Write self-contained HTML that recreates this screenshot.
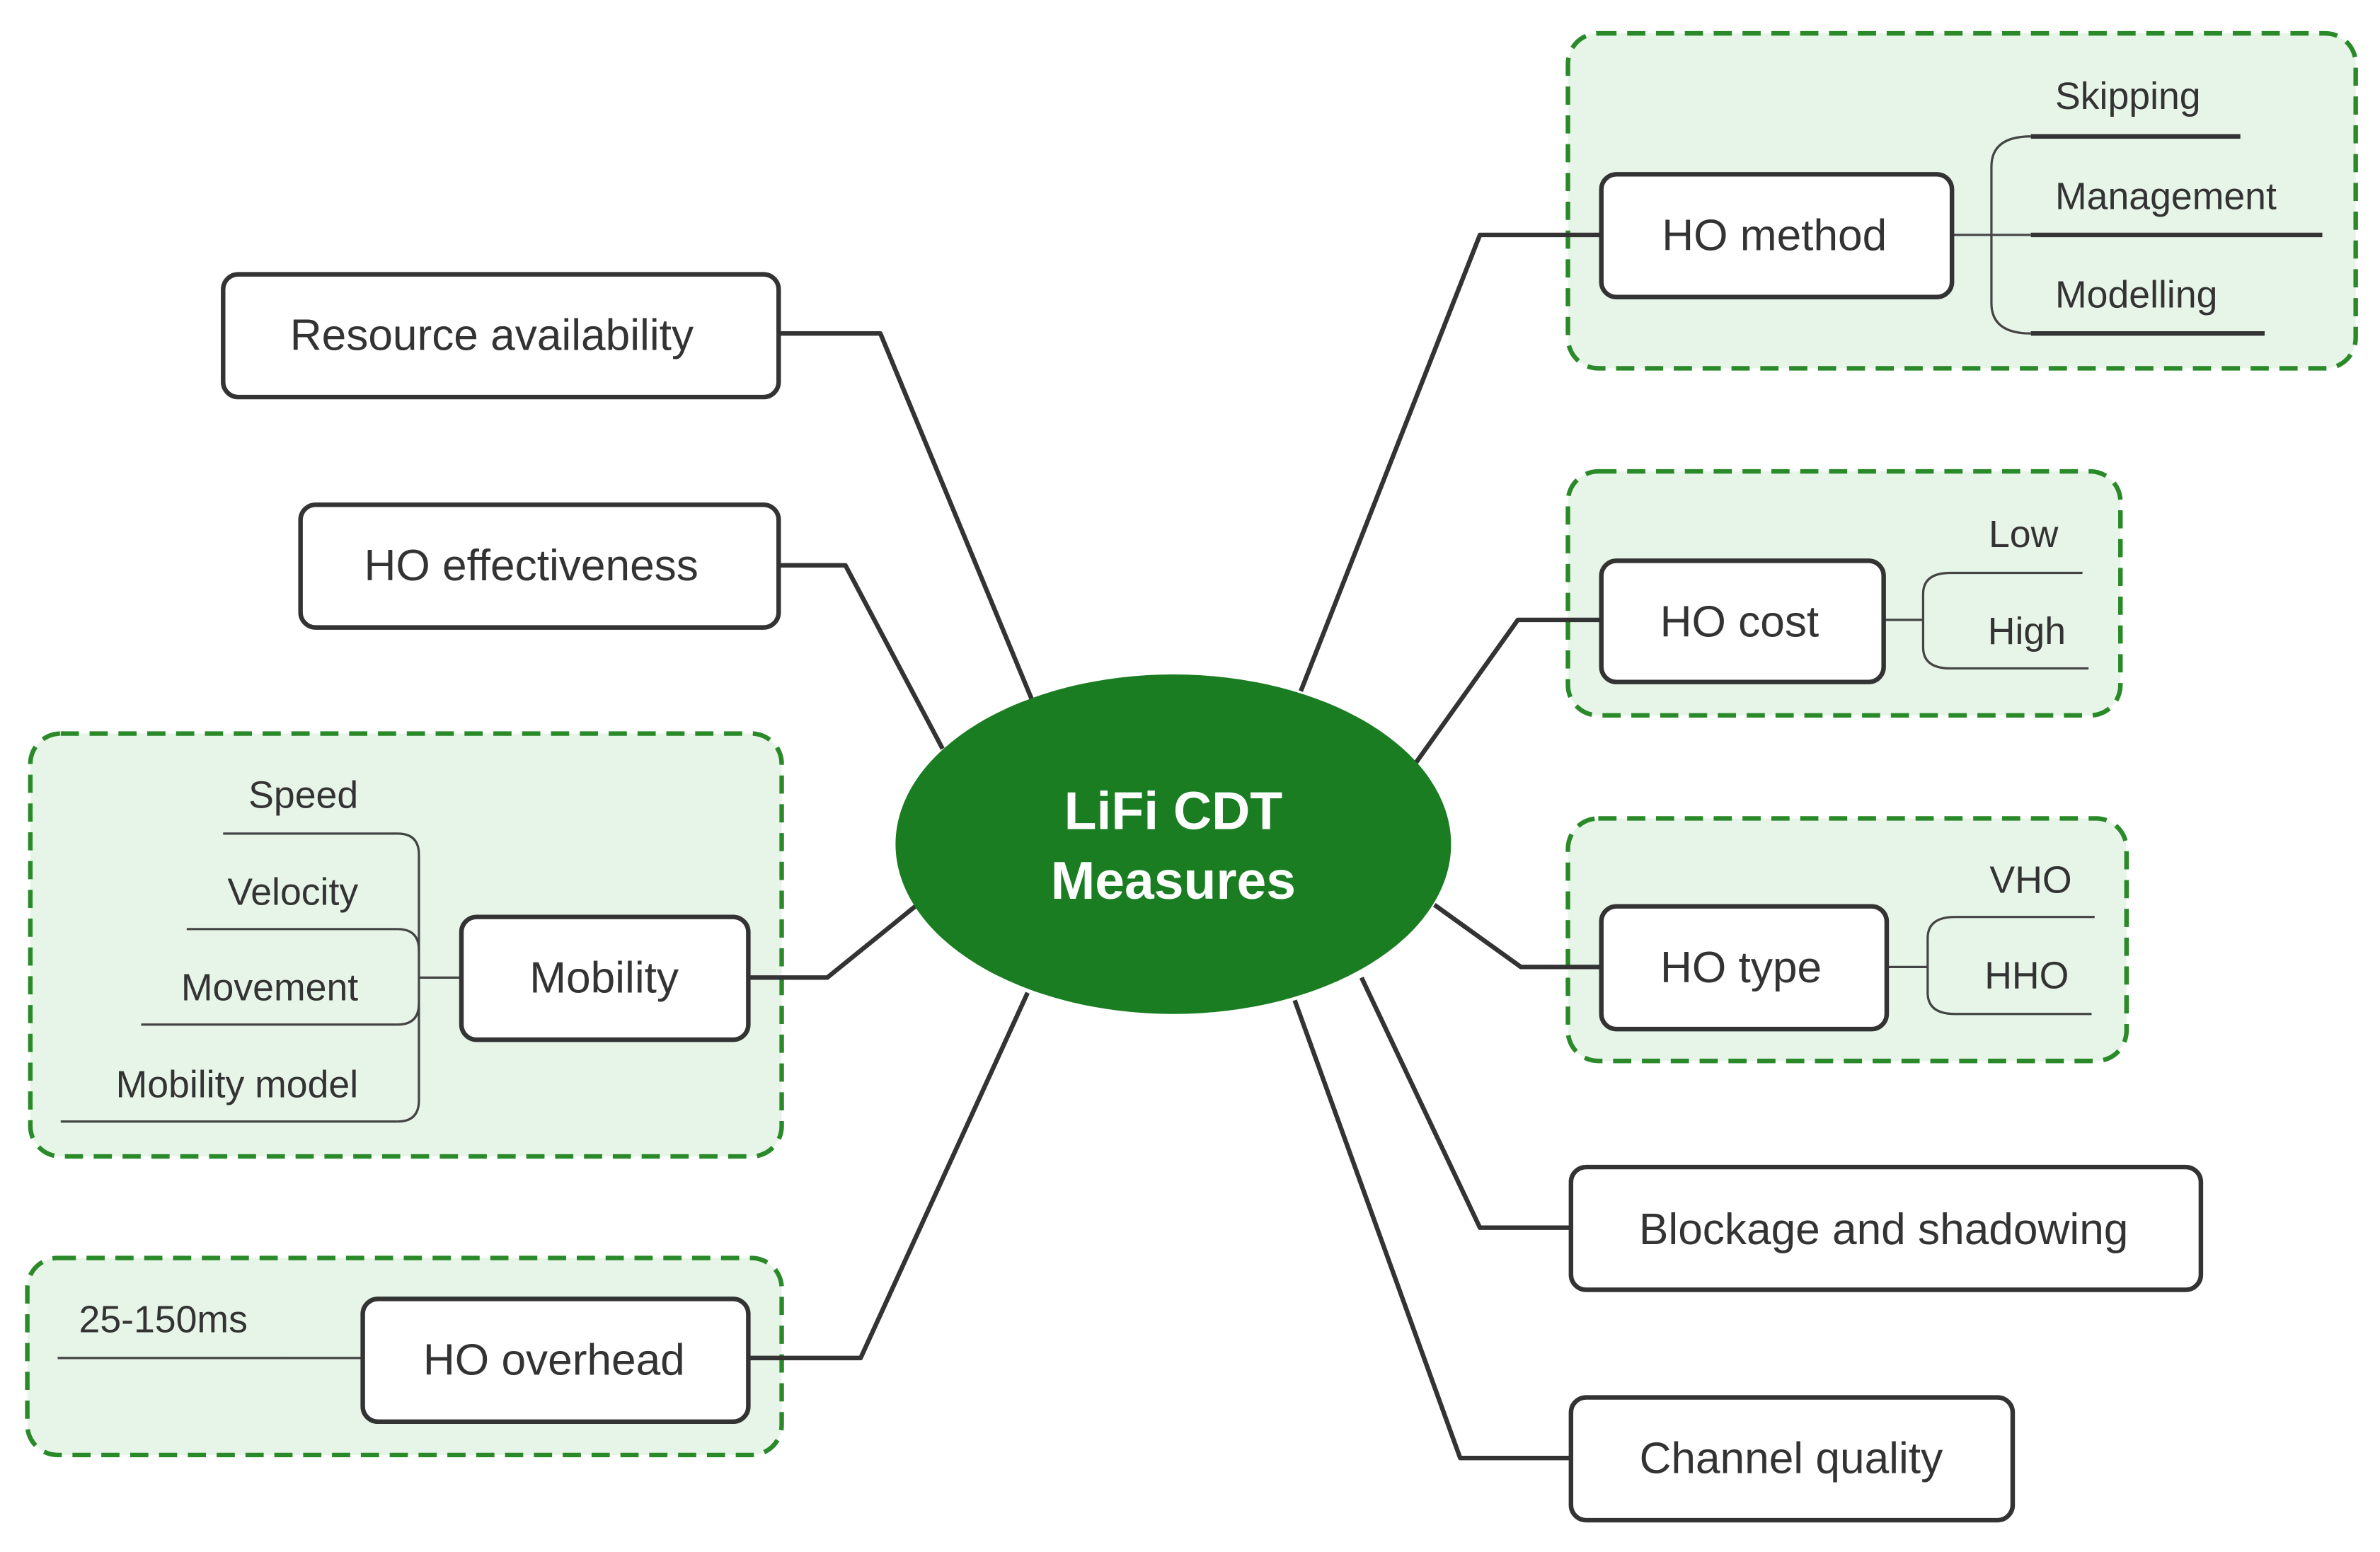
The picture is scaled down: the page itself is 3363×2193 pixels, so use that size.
<!DOCTYPE html>
<html><head><meta charset="utf-8"><style>
html,body{margin:0;padding:0;background:#fff;}
svg{display:block;}
text{font-family:"Liberation Sans",sans-serif;fill:#333;}
</style></head><body>
<svg width="3363" height="2193" viewBox="0 0 1568 1024" preserveAspectRatio="none" xmlns="http://www.w3.org/2000/svg">
<rect x="0" y="0" width="1568" height="1024" fill="#fff"/>
<g fill="#e7f5e8" stroke="#2a8a2a" stroke-width="3" stroke-dasharray="12,7">
<rect x="20" y="484" width="495" height="279" rx="20"/>
<rect x="18" y="830" width="497" height="130" rx="20"/>
<rect x="1033" y="22" width="519" height="221" rx="20"/>
<rect x="1033" y="311" width="364" height="161" rx="20"/>
<rect x="1033" y="540" width="368" height="160" rx="20"/>
</g>
<g fill="none" stroke="#333" stroke-width="3" stroke-linejoin="round">
<polyline points="513,220 580,220 680,462"/>
<polyline points="513,373 557,373 621,494"/>
<polyline points="493,645 545,645 603,598"/>
<polyline points="493,896 567,896 677,655"/>
<polyline points="857,456 975,155 1055,155"/>
<polyline points="933,503 1000,409 1055,409"/>
<polyline points="945,597 1002,638 1055,638"/>
<polyline points="897,645 975,810 1035,810"/>
<polyline points="853,660 962,962 1035,962"/>
</g>
<g fill="none" stroke="#444" stroke-width="1.5">
<path d="M262,550 Q276,550 276,564 L276,726 Q276,740 262,740"/>
<path d="M262,613 Q276,613 276,627 M262,676 Q276,676 276,662"/>
<line x1="276" y1="645" x2="304" y2="645"/>
<line x1="186" y1="896" x2="239" y2="896"/>
<path d="M1338,90 Q1312,90 1312,110 L1312,200 Q1312,220 1338,220"/>
<line x1="1286" y1="155" x2="1338" y2="155"/>
<path d="M1285,378 Q1267,378 1267,392 L1267,427 Q1267,441 1285,441"/>
<line x1="1241" y1="409" x2="1267" y2="409"/>
<path d="M1288,605 Q1270,605 1270,619 L1270,655 Q1270,669 1288,669"/>
<line x1="1243" y1="638" x2="1270" y2="638"/>
</g>
<g stroke="#444" stroke-width="1.5">
<line x1="147" y1="550" x2="262" y2="550"/>
<line x1="123" y1="613" x2="262" y2="613"/>
<line x1="93" y1="676" x2="262" y2="676"/>
<line x1="40" y1="740" x2="262" y2="740"/>
<line x1="38" y1="896" x2="186" y2="896"/>
<line x1="1285" y1="378" x2="1372" y2="378"/>
<line x1="1285" y1="441" x2="1376" y2="441"/>
<line x1="1288" y1="605" x2="1380" y2="605"/>
<line x1="1288" y1="669" x2="1378" y2="669"/>
</g>
<g stroke="#333" stroke-width="3">
<line x1="1338" y1="90" x2="1476" y2="90"/>
<line x1="1338" y1="155" x2="1530" y2="155"/>
<line x1="1338" y1="220" x2="1492" y2="220"/>
</g>
<g fill="#fff" stroke="#333" stroke-width="3">
<rect x="147" y="181" width="366" height="81" rx="10"/>
<rect x="198" y="333" width="315" height="81" rx="10"/>
<rect x="304" y="605" width="189" height="81" rx="10"/>
<rect x="239" y="857" width="254" height="81" rx="10"/>
<rect x="1055" y="115" width="231" height="81" rx="10"/>
<rect x="1055" y="370" width="186" height="80" rx="10"/>
<rect x="1055" y="598" width="188" height="81" rx="10"/>
<rect x="1035" y="770" width="415" height="81" rx="10"/>
<rect x="1035" y="922" width="291" height="81" rx="10"/>
</g>
<ellipse cx="773" cy="557" rx="183" ry="112" fill="#1a7d22"/>
<text x="773" y="547" text-anchor="middle" font-size="35" font-weight="bold" style="fill:#fff">LiFi CDT</text>
<text x="773" y="593" text-anchor="middle" font-size="35" font-weight="bold" style="fill:#fff">Measures</text>
<g font-size="29" text-anchor="middle">
<text x="324" y="231">Resource availability</text>
<text x="350" y="383">HO effectiveness</text>
<text x="398" y="655">Mobility</text>
<text x="365" y="907">HO overhead</text>
<text x="1169" y="165">HO method</text>
<text x="1146" y="420">HO cost</text>
<text x="1147" y="648">HO type</text>
<text x="1241" y="821">Blockage and shadowing</text>
<text x="1180" y="972">Channel quality</text>
</g>
<g font-size="25">
<text x="236" y="533" text-anchor="end">Speed</text>
<text x="236" y="597" text-anchor="end">Velocity</text>
<text x="236" y="660" text-anchor="end">Movement</text>
<text x="236" y="724" text-anchor="end">Mobility model</text>
<text x="52" y="879">25-150ms</text>
<text x="1354" y="72">Skipping</text>
<text x="1354" y="138">Management</text>
<text x="1354" y="203">Modelling</text>
<text x="1356" y="361" text-anchor="end">Low</text>
<text x="1361" y="425" text-anchor="end">High</text>
<text x="1365" y="589" text-anchor="end">VHO</text>
<text x="1363" y="652" text-anchor="end">HHO</text>
</g>
</svg>
</body></html>
